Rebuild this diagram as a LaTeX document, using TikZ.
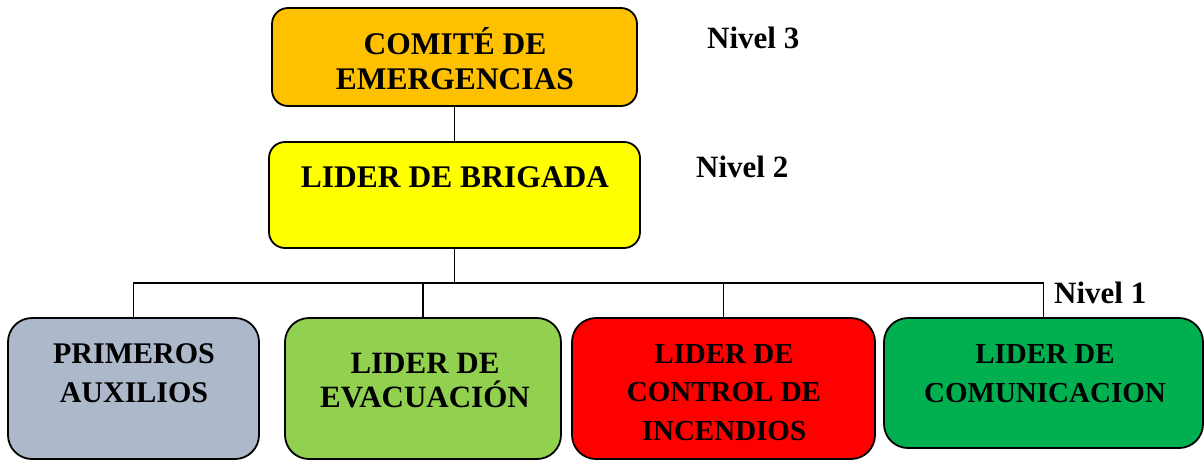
\documentclass[tikz,border=0pt]{standalone}
\usepackage{fontspec}
\setmainfont{Liberation Serif}
\definecolor{cOrange}{HTML}{FFC000}
\definecolor{cYellow}{HTML}{FFFF00}
\definecolor{cGrey}{HTML}{ADB9CA}
\definecolor{cLime}{HTML}{92D050}
\definecolor{cRed}{HTML}{FF0000}
\definecolor{cGreen}{HTML}{00B050}
\tikzset{
  orgbox/.style={draw=black, line width=1.8pt, rounded corners=#1, inner sep=0pt},
  orgbox/.default=16pt,
  lbl/.style={inner sep=0pt, align=center, anchor=base, text=black},
  nivel/.style={inner sep=0pt, anchor=base west, font=\fontsize{31}{35}\selectfont\bfseries},
  conn/.style={draw=black, line width=1.3pt}
}
\begin{document}
\begin{tikzpicture}[x=1pt,y=-1pt]
\useasboundingbox (0,0) rectangle (1204,459);
\clip (0,0) rectangle (1204,459);
% boxes
\node[orgbox, fill=cOrange, minimum width=365pt, minimum height=98pt] (comite) at (454.5,57) {};
\node[orgbox, fill=cYellow, minimum width=371pt, minimum height=106pt] (brigada) at (454.5,195) {};
\node[orgbox=24pt, fill=cGrey, minimum width=251pt, minimum height=141pt] (b1) at (133.5,388.5) {};
\node[orgbox=24pt, fill=cLime, minimum width=276pt, minimum height=141pt] (b2) at (423,388.5) {};
\node[orgbox=24pt, fill=cRed, minimum width=303pt, minimum height=141pt] (b3) at (723.5,388.5) {};
\node[orgbox=24pt, fill=cGreen, minimum width=319pt, minimum height=130pt] (b4) at (1043.5,383) {};
% connectors
\coordinate (bus) at (0,283);
\draw[conn] (comite.south) -- (brigada.north);
\draw[conn] (brigada.south) -- (brigada.south |- bus);
\draw[conn] (b1.north) -- (b1.north |- bus) -| (b4.north);
\draw[conn] (b2.north) -- (b2.north |- bus);
\draw[conn] (b3.north) -- (b3.north |- bus);
% texts
\node[lbl, font=\fontsize{31.5}{35}\selectfont\bfseries] (tcomite) at (455,89) {COMITÉ DE\\EMERGENCIAS};
\node[lbl, font=\fontsize{31.5}{35}\selectfont\bfseries] (tbrigada) at (455,187) {LIDER DE BRIGADA};
\node[lbl, font=\fontsize{30}{39}\selectfont\bfseries] (tb1) at (134,402) {PRIMEROS\\AUXILIOS};
\node[lbl, font=\fontsize{31}{34}\selectfont\bfseries] (tb2) at (425,407) {LIDER DE\\EVACUACIÓN};
\node[lbl, font=\fontsize{29}{38.5}\selectfont\bfseries] (tb3) at (724,440) {LIDER DE\\CONTROL DE\\INCENDIOS};
\node[lbl, font=\fontsize{29}{39}\selectfont\bfseries] (tb4) at (1045,402) {LIDER DE\\COMUNICACION};
% level labels
\node[nivel] (n3) at (707,48) {Nivel 3};
\node[nivel] (n2) at (696,177) {Nivel 2};
\node[nivel] (n1) at (1054,303) {Nivel 1};
\end{tikzpicture}
\end{document}
